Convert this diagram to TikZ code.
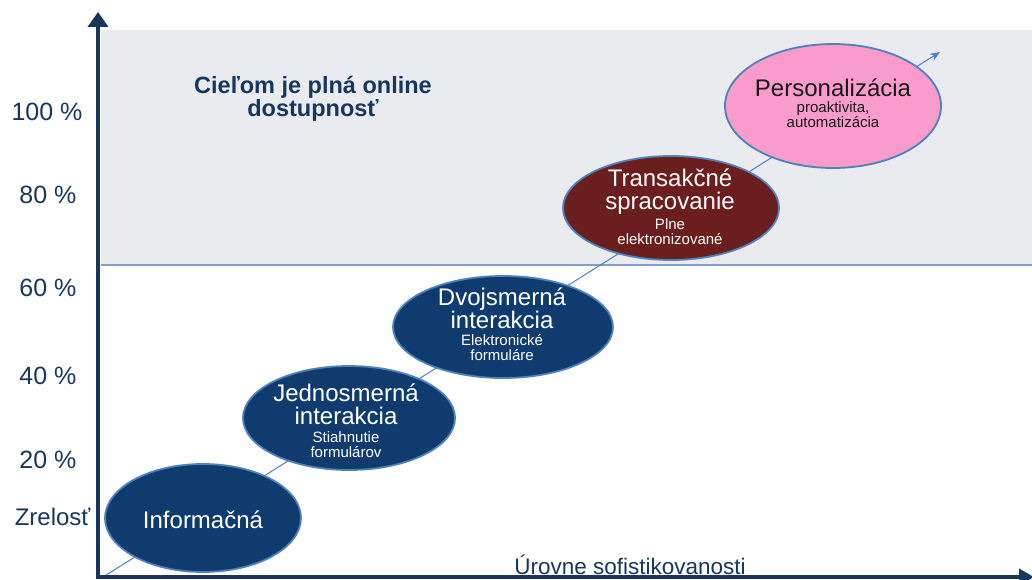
\documentclass[tikz,border=0pt]{standalone}
\usepackage{fontspec}
\setmainfont{Liberation Sans}
\usetikzlibrary{shapes.geometric,arrows.meta}
\definecolor{navy}{HTML}{17375E}
\definecolor{ellnavy}{HTML}{0F3B6E}
\definecolor{steel}{HTML}{4F81BD}
\definecolor{lineblue}{HTML}{7F9FCF}
\definecolor{bggray}{HTML}{E9EBEF}
\definecolor{maroon}{HTML}{6A1E1E}
\definecolor{pinkfill}{HTML}{F99CCB}
\tikzset{
  ell/.style={ellipse, draw=steel, line width=1.8pt, inner sep=0pt},
  ttl/.style={align=center, inner sep=0pt, font=\fontsize{24}{23}\selectfont},
  sub/.style={align=center, inner sep=0pt, font=\fontsize{15}{15}\selectfont},
  ylab/.style={anchor=east, text=navy, font=\fontsize{25}{28}\selectfont},
  axis/.style={draw=navy, line width=4.5pt},
  diag/.style={draw=steel, line width=1pt}
}
\begin{document}
\begin{tikzpicture}[x=1pt,y=-1pt]
\useasboundingbox (0,0) rectangle (1032,580);
\fill[bggray] (101,30) rectangle (1032,265);
\coordinate (hl) at (101,265);
\coordinate (hr) at (1032,265);
\draw[lineblue, line width=1.2pt] (hl) -- (hr);
% diagonal
\coordinate (dstart) at (103,577);
\coordinate (dend) at (940,52);
\draw[diag, -{Stealth[length=10pt,width=8pt]}] (dstart) -- (dend);
% axes
\coordinate (orig) at (98,578);
\coordinate (ytop) at (98,12);
\coordinate (xleft) at (96,577);
\coordinate (xright) at (1034,577);
\draw[axis, -{Triangle[length=15pt,width=20pt]}] (orig) -- (ytop);
\draw[axis, -{Triangle[length=15pt,width=16pt]}] (xleft) -- (xright);
% ellipses
\node[ell, fill=ellnavy, minimum width=196pt, minimum height=108pt] (inf) at (203,518) {};
\node[ttl, text=white] (inft) at (203,520) {Informačná};

\node[ell, fill=ellnavy, minimum width=212pt, minimum height=104pt] (jed) at (349,418) {};
\node[ttl, text=white] (jedt) at (346,404) {Jednosmerná\\interakcia};
\node[sub, text=white] (jeds) at (346,445) {Stiahnutie\\formulárov};

\node[ell, fill=ellnavy, minimum width=220pt, minimum height=102pt] (dvo) at (503,327) {};
\node[ttl, text=white] (dvot) at (502,308) {Dvojsmerná\\interakcia};
\node[sub, text=white] (dvos) at (502,348) {Elektronické\\formuláre};

\node[ell, fill=maroon, minimum width=216pt, minimum height=104pt] (tra) at (671,208) {};
\node[ttl, text=white!92!pink] (trat) at (670,192) {Transakčné\\spracovanie};
\node[sub, text=white!92!pink] (tras) at (670,232) {Plne\\elektronizované};

\node[ell, fill=pinkfill, minimum width=216pt, minimum height=124pt] (per) at (833,106) {};
\node[ttl, text=black!90] (pert) at (833,88) {Personalizácia};
\node[sub, text=black!90] (pers) at (833,115) {proaktivita,\\automatizácia};
% y labels
\node[ylab] (y100) at (86,112) {100 \%};
\node[ylab] (y80) at (80,195) {80 \%};
\node[ylab] (y60) at (80,288) {60 \%};
\node[ylab] (y40) at (80,376) {40 \%};
\node[ylab] (y20) at (80,460) {20 \%};
\node[ylab, font=\fontsize{24}{28}\selectfont] (zr) at (94,517) {Zrelosť};
% texts
\node[align=center, text=navy, font=\bfseries\fontsize{23.5}{23}\selectfont] (goal) at (313,99) {Cieľom je plná online\\dostupnosť};
\node[text=navy, font=\fontsize{22.5}{24}\selectfont] (xl) at (630,565) {Úrovne sofistikovanosti};
\end{tikzpicture}
\end{document}
